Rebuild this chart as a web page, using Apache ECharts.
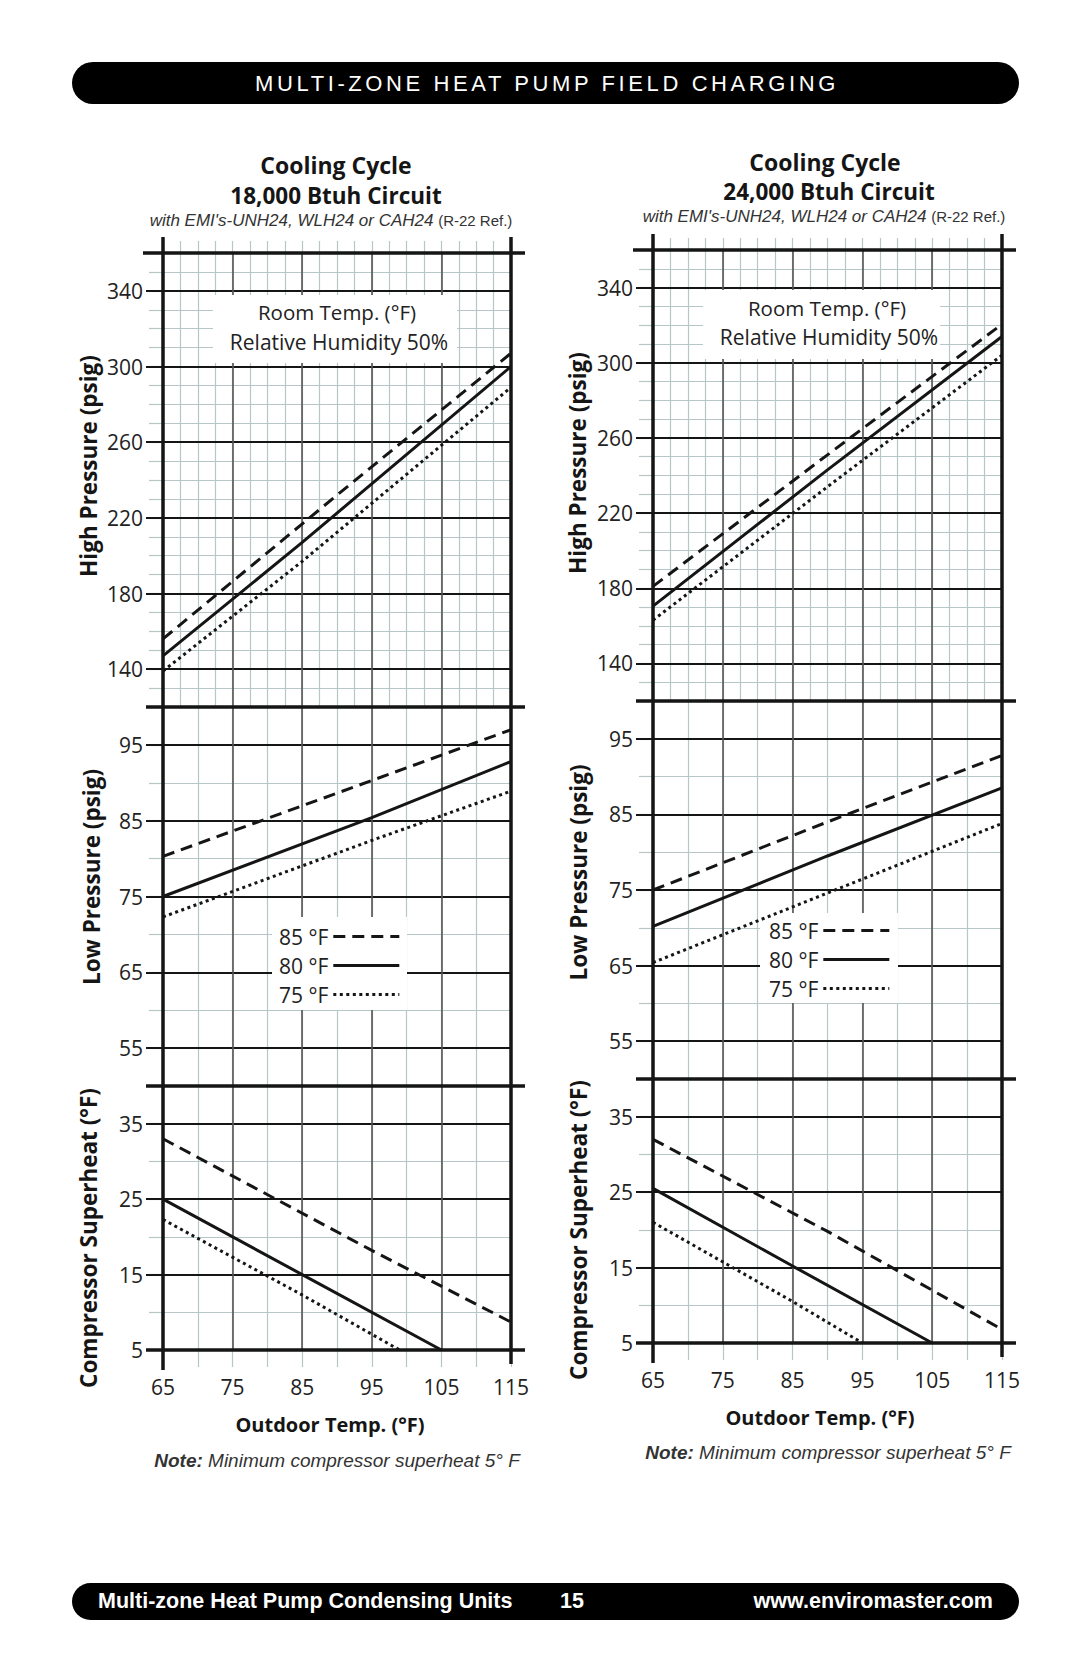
<!DOCTYPE html>
<html><head><meta charset="utf-8">
<script src="https://cdn.jsdelivr.net/npm/echarts@6/dist/echarts.min.js"></script>
<style>html,body{margin:0;padding:0;background:#fff}#c{width:1080px;height:1669px}
#c text[fill="#fffffe"]{letter-spacing:3.6px}</style>
</head><body><div id="c"></div>
<script>
// ---------------- data ----------------
const xTickLabels = [65, 75, 85, 95, 105, 115];
const hpTickLabels = [140, 180, 220, 260, 300, 340];
const lpTickLabels = [55, 65, 75, 85, 95];
const shTickLabels = [5, 15, 25, 35];
const seriesNames = ['85 °F', '80 °F', '75 °F'];

// 18,000 Btuh circuit  [outdoor °F, value]
const hp18_85 = [[65, 156], [90, 232], [115, 307]];
const hp18_80 = [[65, 147], [85, 207], [115, 300]];
const hp18_75 = [[65, 139], [85, 197], [115, 289]];
const lp18_85 = [[65, 80.3], [95, 90.3], [115, 97]];
const lp18_80 = [[65, 75], [95, 85.4], [115, 92.8]];
const lp18_75 = [[65, 72.3], [95, 82.4], [115, 88.9]];
const sh18_85 = [[65, 33], [95, 18.2], [115, 8.7]];
const sh18_80 = [[65, 25], [85, 15], [105, 5]];
const sh18_75 = [[65, 22.3], [85, 12.3], [99, 5]];

// 24,000 Btuh circuit
const hp24_85 = [[65, 181], [90, 251], [115, 320.5]];
const hp24_80 = [[65, 170.5], [90, 243], [115, 314]];
const hp24_75 = [[65, 163], [90, 234], [115, 304]];
const lp24_85 = [[65, 75], [90, 84], [115, 92.8]];
const lp24_80 = [[65, 70.2], [90, 79.5], [115, 88.5]];
const lp24_75 = [[65, 65.4], [90, 74.6], [115, 83.8]];
const sh24_85 = [[65, 32], [90, 19.8], [115, 6.8]];
const sh24_80 = [[65, 25.5], [85, 15.2], [105, 5]];
const sh24_75 = [[65, 21], [85, 10.5], [95, 5]];

// ---------------- layout / style ----------------
const MINOR = '#b7c6c6';
const INK = '#151515';
const FONT = "'Open Sans','Noto Sans',sans-serif";
const ARIAL = "'Liberation Sans',Arial,sans-serif";
const lineTypes = [[12, 7], 'solid', [3, 3.5]];

const panels = [
  {min: 120, max: 360, yStep: 10, xStep: 2.5, ticks: hpTickLabels, name: 'High Pressure (psig)'},
  {min: 50, max: 100, yStep: 5, xStep: 5, ticks: lpTickLabels, name: 'Low Pressure (psig)'},
  {min: 5, max: 40, yStep: 5, xStep: 5, ticks: shTickLabels, name: 'Compressor Superheat (°F)'}
];

const charts = [
  {
    data: [[hp18_85, hp18_80, hp18_75], [lp18_85, lp18_80, lp18_75], [sh18_85, sh18_80, sh18_75]],
    circuit: '18,000 Btuh Circuit',
    x0: 163, x1: 511, ys: [253, 707, 1086, 1350],
    titleC: [336, 165], circC: [336, 195], subC: [331, 220],
    roomBox: [213, 295, 244, 68], roomC: [337, 312], rhC: [339, 341.5],
    legendPos: [279, 926], legendBox: [272, 917, 135, 93],
    nameC: [[88, 466], [91, 877], [88, 1238]],
    outC: [330, 1424], noteC: [337, 1460]
  },
  {
    data: [[hp24_85, hp24_80, hp24_75], [lp24_85, lp24_80, lp24_75], [sh24_85, sh24_80, sh24_75]],
    circuit: '24,000 Btuh Circuit',
    x0: 653, x1: 1002, ys: [250, 701, 1079, 1343],
    titleC: [825, 162], circC: [829, 191.5], subC: [824, 216],
    roomBox: [703, 290, 237, 69], roomC: [827, 307.5], rhC: [829, 337],
    legendPos: [769, 920], legendBox: [760, 913, 138, 90],
    nameC: [[577, 463], [578, 872.5], [578, 1230]],
    outC: [820, 1417], noteC: [828, 1452.5]
  }
];

const grid = [], xAxis = [], yAxis = [], series = [], legend = [], graphic = [];

function txt(x, y, text, font, fill, align, extra) {
  return Object.assign({type: 'text', x: x, y: y, z: 20, silent: true,
    style: {text: text, font: font, fill: fill || INK, align: align || 'center', verticalAlign: 'middle'}}, extra || {});
}
function seg(x1, y1, x2, y2, w, color) {
  return {type: 'line', z: 15, silent: true, shape: {x1: x1, y1: y1, x2: x2, y2: y2},
    style: {stroke: color || INK, lineWidth: w}};
}

charts.forEach(function (c, ci) {
  panels.forEach(function (p, pi) {
    const g = grid.length;
    grid.push({left: c.x0, top: c.ys[pi], width: c.x1 - c.x0, height: c.ys[pi + 1] - c.ys[pi], containLabel: false});
    xAxis.push({
      gridIndex: g, type: 'value', min: 65, max: 115, interval: p.xStep,
      position: pi === 0 ? 'top' : 'bottom',
      axisLine: {show: false},
      axisTick: {show: pi !== 1, inside: false, length: pi === 0 ? 12 : 17, lineStyle: {color: MINOR, width: 1.2}},
      axisLabel: {show: pi === 2, margin: 26, fontSize: 21, fontFamily: FONT, color: '#222',
        formatter: function (v) { return xTickLabels.indexOf(v) >= 0 ? String(v) : ''; }},
      splitLine: {show: true, lineStyle: {color: MINOR, width: 1.2}}
    });
    // minor axis (series use this one)
    yAxis.push({
      gridIndex: g, type: 'value', position: 'left', min: p.min, max: p.max, interval: p.yStep,
      axisLine: {show: false},
      axisTick: {show: true, length: 14, lineStyle: {color: MINOR, width: 1.2}},
      axisLabel: {show: false},
      splitLine: {show: true, lineStyle: {color: MINOR, width: 1.2}}
    });
    // major axis: labelled ticks
    yAxis.push({
      gridIndex: g, type: 'value', position: 'left', offset: 0, min: p.min, max: p.max, interval: p.yStep,
      axisLine: {show: false},
      axisTick: {show: true, length: 17, customValues: p.ticks, lineStyle: {color: INK, width: 2}},
      axisLabel: {show: true, customValues: p.ticks, margin: 20, fontSize: 21, fontFamily: FONT, color: '#222'},
      splitLine: {show: false}
    });
    const yi = 2 * g;
    // grid-line carrier series (major lines)
    series.push({
      type: 'line', name: 'grid' + g, xAxisIndex: g, yAxisIndex: yi, data: [], z: 1, silent: true,
      markLine: {
        silent: true, z: 1, symbol: ['none', 'none'], label: {show: false}, animation: false,
        emphasis: {disabled: true},
        data: p.ticks.map(function (v) { return {yAxis: v, lineStyle: {color: INK, width: 2, type: 'solid'}}; })
          .concat(xTickLabels.slice(1, -1).map(function (v) { return {xAxis: v, lineStyle: {color: '#555', width: 1.6, type: 'solid'}}; }))
      }
    });
    // data series
    c.data[pi].forEach(function (d, si) {
      series.push({
        type: 'line', name: seriesNames[si], xAxisIndex: g, yAxisIndex: yi, data: d, z: 5,
        symbol: 'none', silent: true, smooth: false,
        itemStyle: {opacity: 0, color: INK},
        lineStyle: {color: INK, width: 3, type: lineTypes[si], cap: 'butt'}
      });
    });
    // axis name
    graphic.push(txt(c.nameC[pi][0], c.nameC[pi][1], p.name, 'bold 22.5px ' + FONT, INK, 'center', {rotation: Math.PI / 2}));
  });

  legend.push({
    left: c.legendPos[0], top: c.legendPos[1], orient: 'vertical', align: 'right',
    itemWidth: 66, itemHeight: 14, itemGap: 8, padding: 0, selectedMode: false, z: 8,
    data: seriesNames,
    itemStyle: {opacity: 0},
    lineStyle: {width: 3},
    textStyle: {fontSize: 21, fontFamily: FONT, color: '#222', padding: [0, 0, 0, 0]}
  });

  // white boxes
  graphic.push({type: 'rect', z: 3, silent: true, shape: {x: c.roomBox[0], y: c.roomBox[1], width: c.roomBox[2], height: c.roomBox[3]}, style: {fill: '#fff'}});
  graphic.push({type: 'rect', z: 3, silent: true, shape: {x: c.legendBox[0], y: c.legendBox[1], width: c.legendBox[2], height: c.legendBox[3]}, style: {fill: '#fff'}});
  graphic.push(txt(c.roomC[0], c.roomC[1], 'Room Temp. (°F)', '20.5px ' + FONT, '#222'));
  graphic.push(txt(c.rhC[0], c.rhC[1], 'Relative Humidity 50%', '21px ' + FONT, '#222'));

  // titles
  graphic.push(txt(c.titleC[0], c.titleC[1], 'Cooling Cycle', 'bold 23px ' + FONT));
  graphic.push(txt(c.circC[0], c.circC[1], c.circuit, 'bold 22.5px ' + FONT));
  graphic.push({type: 'text', x: c.subC[0], y: c.subC[1], z: 20, silent: true, style: {
    text: "{i|with EMI's-UNH24, WLH24 or CAH24 }{n|(R-22 Ref.)}", align: 'center', verticalAlign: 'middle',
    rich: {i: {fontStyle: 'italic', fontSize: 17, fontFamily: ARIAL, fill: '#333'},
           n: {fontSize: 15, fontFamily: ARIAL, fill: '#333'}}}});
  graphic.push(txt(c.outC[0], c.outC[1], 'Outdoor Temp. (°F)', 'bold 20px ' + FONT));
  graphic.push({type: 'text', x: c.noteC[0], y: c.noteC[1], z: 20, silent: true, style: {
    text: '{b|Note:}{i| Minimum compressor superheat 5° F}', align: 'center', verticalAlign: 'middle',
    rich: {b: {fontStyle: 'italic', fontWeight: 'bold', fontSize: 19, fontFamily: ARIAL, fill: '#333'},
           i: {fontStyle: 'italic', fontSize: 19, fontFamily: ARIAL, fill: '#333'}}}});

  // frame
  const yTop = c.ys[0], yBot = c.ys[3];
  graphic.push(seg(c.x0, yTop - 16, c.x0, yBot + 20, 3.5));
  graphic.push(seg(c.x1, yTop - 16, c.x1, yBot + 14, 3.5));
  c.ys.forEach(function (y, k) {
    graphic.push(seg(c.x0 - (k === 0 ? 20 : 17), y, c.x1 + 14, y, 3.5));
  });
});

// header & footer bars
graphic.push({type: 'rect', z: 3, silent: true, shape: {x: 72, y: 62, width: 947, height: 42, r: 21}, style: {fill: '#000'}});
graphic.push(txt(547, 83, 'MULTI-ZONE HEAT PUMP FIELD CHARGING', '22px ' + ARIAL, '#fffffe'));
graphic.push({type: 'rect', z: 3, silent: true, shape: {x: 72, y: 1583, width: 947, height: 37, r: 18.5}, style: {fill: '#000'}});
graphic.push(txt(98, 1601, 'Multi-zone Heat Pump Condensing Units', 'bold 21.5px ' + ARIAL, '#fff', 'left'));
graphic.push(txt(572, 1601, '15', 'bold 21.5px ' + ARIAL, '#fff'));
graphic.push(txt(993, 1601, 'www.enviromaster.com', 'bold 21.5px ' + ARIAL, '#fff', 'right'));

const chart = echarts.init(document.getElementById('c'), null, {renderer: 'svg', width: 1080, height: 1669});
chart.setOption({
  backgroundColor: '#fff',
  animation: false,
  grid: grid, xAxis: xAxis, yAxis: yAxis, series: series, legend: legend,
  graphic: {elements: graphic}
});
</script></body></html>
